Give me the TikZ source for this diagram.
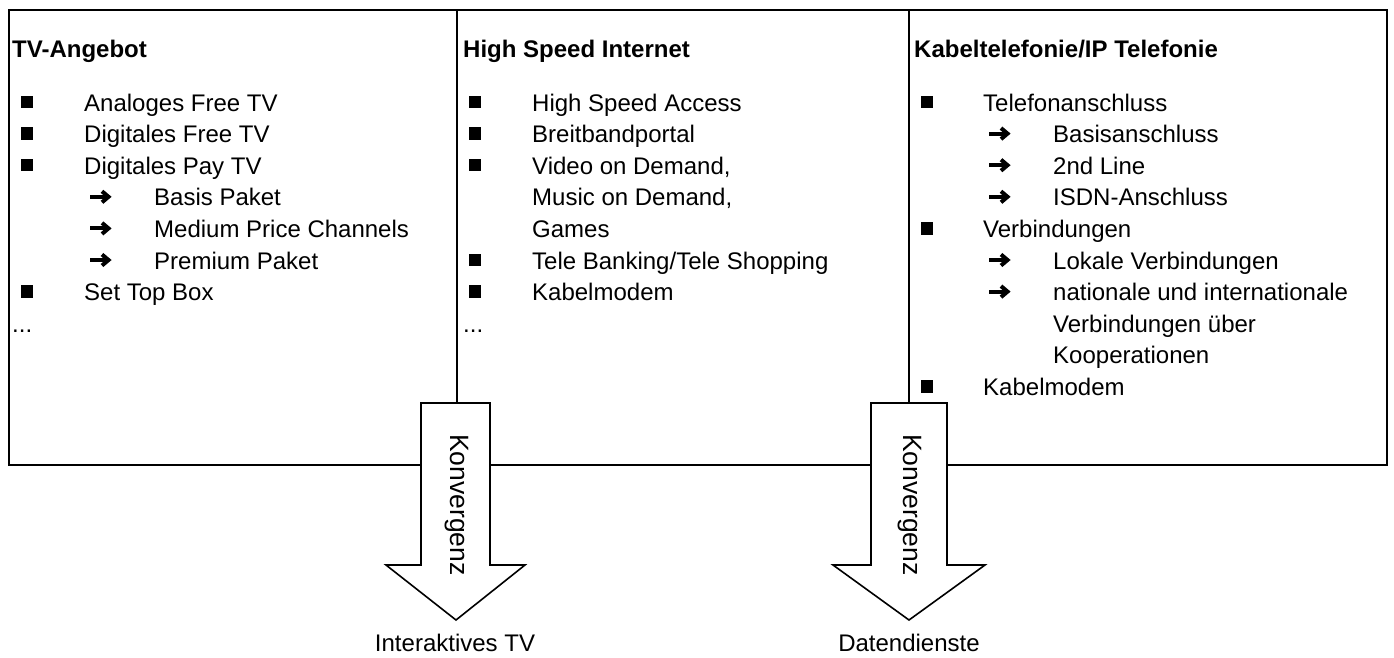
\documentclass[tikz,border=0pt]{standalone}
\usepackage{fontspec}
\setmainfont{Liberation Sans}
\begin{document}
\begin{tikzpicture}[x=1pt,y=-1pt,
  txt/.style={anchor=base west, inner sep=0pt, font=\fontsize{24}{28}\selectfont},
  ttl/.style={anchor=base west, inner sep=0pt, font=\fontsize{24}{28}\selectfont\bfseries},
  bul/.style={fill=black, minimum size=12.5pt, inner sep=0pt},
  frame/.style={draw=black, line width=1.6pt},
  bigarrow/.style={draw=black, line width=1.6pt, fill=white, line join=miter},
  conv/.style={inner sep=0pt, rotate=-90, font=\fontsize{26.5}{30}\selectfont},
  lbl/.style={anchor=base, inner sep=0pt, font=\fontsize{24}{28}\selectfont},
  harrow/.pic={
    \draw[line width=4pt] (0,0) -- (17,0);
    \draw[line width=4pt, line join=miter] (12,-5.5) -- (18.5,0) -- (12,5.5);
  }]
\useasboundingbox (0,0) rectangle (1394,657);
\fill[white] (0,0) rectangle (1394,657);
% frame
\draw[frame] (9,10) rectangle (1387,465);
\coordinate (d1t) at (457,10); \coordinate (d1b) at (457,465);
\coordinate (d2t) at (909,10); \coordinate (d2b) at (909,465);
\draw[frame] (d1t) -- (d1b);
\draw[frame] (d2t) -- (d2b);
% left column
\node[ttl] (lt) at (12,57) {TV-Angebot};
\node[bul] (lb1) at (27,102) {};   \node[txt] (l1) at (84,111) {Analoges Free TV};
\node[bul] (lb2) at (27,133.6) {}; \node[txt] (l2) at (84,142.6) {Digitales Free TV};
\node[bul] (lb3) at (27,165.2) {}; \node[txt] (l3) at (84,174.2) {Digitales Pay TV};
\pic (la4) at (90,196.8) {harrow}; \node[txt] (l4) at (154,205.8) {Basis Paket};
\pic (la5) at (90,228.4) {harrow}; \node[txt] (l5) at (154,237.4) {Medium Price Channels};
\pic (la6) at (90,260) {harrow};   \node[txt] (l6) at (154,269) {Premium Paket};
\node[bul] (lb7) at (27,291.6) {}; \node[txt] (l7) at (84,300.6) {Set Top Box};
\node[txt] (l8) at (12,332.2) {...};
% middle column
\node[ttl] (mt) at (463,57) {High Speed Internet};
\node[bul] (mb1) at (475,102) {};   \node[txt] (m1) at (532,111) {High Speed Access};
\node[bul] (mb2) at (475,133.6) {}; \node[txt] (m2) at (532,142.6) {Breitbandportal};
\node[bul] (mb3) at (475,165.2) {}; \node[txt] (m3) at (532,174.2) {Video on Demand,};
\node[txt] (m4) at (532,205.8) {Music on Demand,};
\node[txt] (m5) at (532,237.4) {Games};
\node[bul] (mb6) at (475,260) {};   \node[txt] (m6) at (532,269) {Tele Banking/Tele Shopping};
\node[bul] (mb7) at (475,291.6) {}; \node[txt] (m7) at (532,300.6) {Kabelmodem};
\node[txt] (m8) at (463,332.2) {...};
% right column
\node[ttl] (rt) at (914,57) {Kabeltelefonie/IP Telefonie};
\node[bul] (rb1) at (927,102) {};   \node[txt] (r1) at (983,111) {Telefonanschluss};
\pic (ra2) at (989,133.6) {harrow}; \node[txt] (r2) at (1053,142.6) {Basisanschluss};
\pic (ra3) at (989,165.2) {harrow}; \node[txt] (r3) at (1053,174.2) {2nd Line};
\pic (ra4) at (989,196.8) {harrow}; \node[txt] (r4) at (1053,205.8) {ISDN-Anschluss};
\node[bul] (rb5) at (927,228.4) {}; \node[txt] (r5) at (983,237.4) {Verbindungen};
\pic (ra6) at (989,260) {harrow};   \node[txt] (r6) at (1053,269) {Lokale Verbindungen};
\pic (ra7) at (989,291.6) {harrow}; \node[txt] (r7) at (1053,300.6) {nationale und internationale};
\node[txt] (r8) at (1053,332.2) {Verbindungen über};
\node[txt] (r9) at (1053,363.8) {Kooperationen};
\node[bul] (rb10) at (927,386.4) {}; \node[txt] (r10) at (983,395.4) {Kabelmodem};
% convergence arrows
\draw[bigarrow] (421,403) -- (490,403) -- (490,565) -- (525,565) -- (456,620) -- (386,565) -- (421,565) -- cycle;
\draw[bigarrow] (871,403) -- (947,403) -- (947,565) -- (985,565) -- (909,620) -- (833,565) -- (871,565) -- cycle;
\node[conv] (k1) at (457,505) {Konvergenz};
\node[conv] (k2) at (910,505) {Konvergenz};
\node[lbl] (o1) at (455,651) {Interaktives TV};
\node[lbl] (o2) at (909,651) {Datendienste};
\end{tikzpicture}
\end{document}
